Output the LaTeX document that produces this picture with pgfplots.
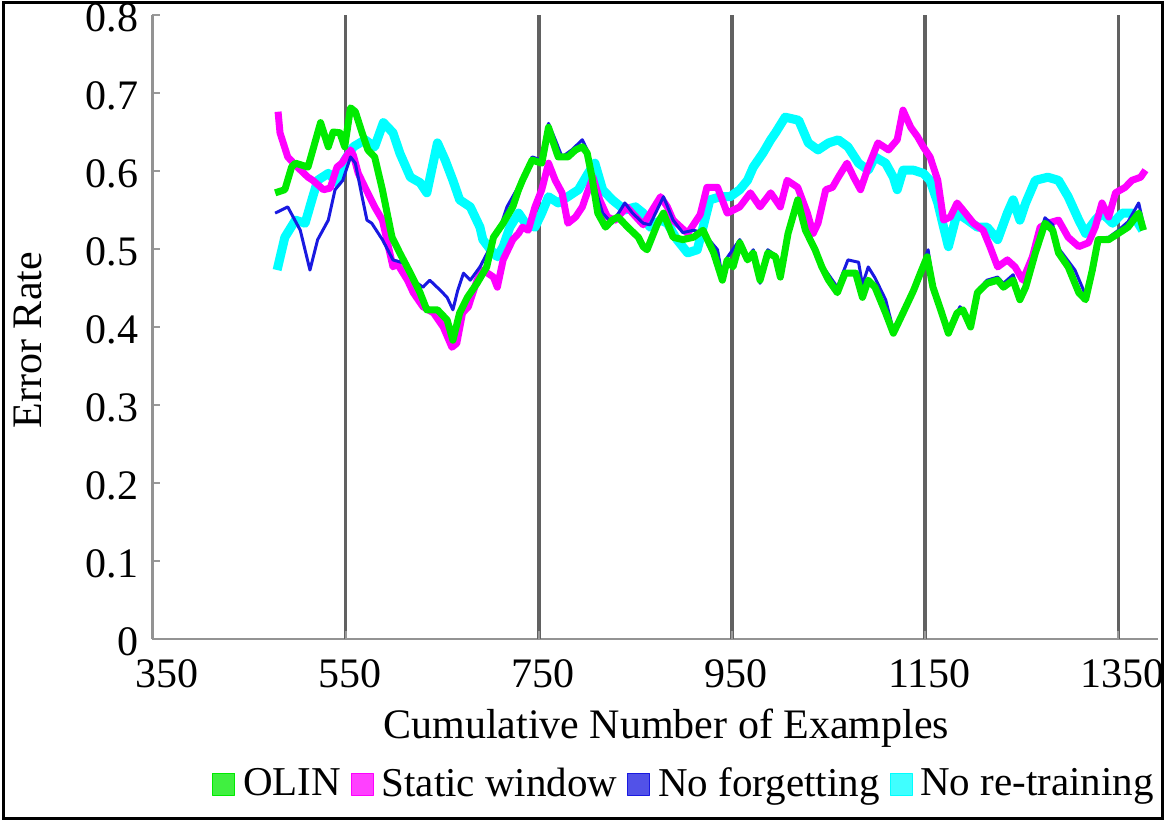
\documentclass[border=0pt]{standalone}
\usepackage{pgfplots}
\pgfplotsset{compat=1.18}
\usepackage{fontspec}
\setmainfont{Liberation Serif}
\definecolor{olin}{RGB}{0,235,0}
\definecolor{static}{RGB}{255,0,255}
\definecolor{nof}{RGB}{25,25,225}
\definecolor{noret}{RGB}{0,255,255}
\newcommand{\bigfont}{\fontsize{21}{25}\selectfont}
\newcommand{\legfont}{\fontsize{20.5}{24}\selectfont}
\begin{document}
\bigfont
\begin{tikzpicture}
\useasboundingbox (0,0) rectangle (583.5pt,411pt);
\fill[white] (0,0) rectangle (583.5pt,411pt);
\draw[line width=1.5pt] (1.5pt,1.5pt) rectangle (581pt,409.5pt);
\begin{axis}[
  at={(76.25pt,91.5pt)}, anchor=south west,
  scale only axis, width=502.75pt, height=312pt,
  xmin=350, xmax=1391, ymin=0, ymax=0.8,
  axis lines*=left,
  axis line style={draw=gray!85, line width=1.3pt, -},
  xtick={350,550,750,950,1150,1350},
  xticklabels={\hspace*{10pt}350,550,750,950,1150,1350},
  ytick={0,0.1,0.2,0.3,0.4,0.5,0.6,0.7,0.8},
  extra x ticks={550,750,950,1150,1350},
  extra x tick labels={},
  extra x tick style={grid=major},
  major grid style={draw=black!62, line width=1.8pt},
  tick style={draw=gray!80, line width=1pt},
  major tick length=4pt,
  scaled ticks=false,
  /pgf/number format/assume math mode=true,
  /pgf/number format/1000 sep={},
  tick label style={font=\bigfont},
  xticklabel style={yshift=-3pt, xshift=2pt},
  yticklabel style={yshift=-1.5pt},
  label style={font=\bigfont},
  xlabel={Cumulative Number of Examples},
  ylabel={Error Rate},
  xlabel style={at={(axis description cs:0.511,-0.159)}, anchor=base},
  ylabel style={at={(axis description cs:-0.124,0.479)}, anchor=center},
  legend columns=4,
  legend style={at={(axis description cs:0.059,-0.234)}, anchor=west, draw=none, fill=none,
    inner sep=0pt, font=\legfont, nodes={inner xsep=4pt, inner ysep=2pt},
    /tikz/every even column/.append style={column sep=1pt}},
  legend image code/.code={\fill[#1,fill opacity=0.75] (0pt,-5pt) rectangle (11pt,6pt);},
  line join=round,
]
\addlegendimage{olin}
\addlegendentry{OLIN}
\addlegendimage{static}
\addlegendentry{Static window}
\addlegendimage{nof}
\addlegendentry{No forgetting}
\addlegendimage{noret}
\addlegendentry{No re-training}

% No re-training
\addplot[noret, line width=4.5pt, forget plot] coordinates {
(479,0.473)(487,0.515)(498,0.537)(508,0.533)(515,0.563)(521,0.588)(532,0.597)(541,0.585)
(549,0.614)(558,0.631)(570,0.640)(580,0.631)(589,0.662)(599,0.649)(606,0.623)(617,0.592)
(627,0.585)(634,0.572)(645,0.636)(653,0.614)(661,0.588)(668,0.563)(679,0.554)(689,0.528)
(692,0.512)(700,0.499)(707,0.490)(713,0.503)(720,0.528)(729,0.546)(736,0.533)(746,0.528)
(753,0.546)(760,0.567)(770,0.559)(780,0.567)(791,0.576)(801,0.597)(808,0.610)(816,0.576)
(826,0.563)(839,0.550)(850,0.554)(858,0.546)(865,0.528)(876,0.537)(883,0.533)(893,0.512)
(904,0.495)(914,0.499)(920,0.528)(927,0.563)(938,0.567)(948,0.567)(958,0.576)(966,0.588)
(972,0.605)(982,0.623)(990,0.640)(995,0.649)(1005,0.669)(1019,0.665)(1029,0.636)(1039,0.627)
(1050,0.636)(1060,0.640)(1070,0.631)(1081,0.610)(1091,0.601)(1098,0.618)(1109,0.610)(1117,0.592)
(1121,0.576)(1127,0.601)(1138,0.601)(1148,0.597)(1155,0.588)(1163,0.559)(1169,0.528)(1174,0.503)
(1183,0.546)(1194,0.537)(1204,0.528)(1214,0.528)(1225,0.512)(1235,0.546)(1241,0.563)(1248,0.537)
(1254,0.559)(1264,0.588)(1277,0.592)(1288,0.588)(1298,0.567)(1309,0.537)(1316,0.520)(1326,0.537)
(1333,0.546)(1344,0.533)(1354,0.546)(1364,0.546)(1375,0.524)
};
% Static window
\addplot[static, line width=3.5pt, forget plot] coordinates {
(480,0.676)(482,0.649)(490,0.618)(500,0.605)(511,0.592)(516,0.588)(527,0.576)(534,0.578)
(541,0.605)(546,0.610)(555,0.627)(558,0.620)(563,0.597)(570,0.579)(580,0.554)(588,0.537)
(599,0.477)(603,0.482)(614,0.460)(620,0.444)(630,0.426)(641,0.418)(651,0.400)(660,0.374)
(665,0.379)(671,0.418)(677,0.426)(686,0.460)(692,0.473)(703,0.464)(707,0.451)(713,0.486)
(723,0.512)(729,0.520)(733,0.528)(739,0.524)(746,0.554)(753,0.576)(760,0.610)(767,0.588)
(774,0.572)(780,0.533)(788,0.541)(795,0.554)(800,0.572)(806,0.592)(813,0.563)(821,0.541)
(829,0.537)(841,0.554)(858,0.531)(876,0.567)(883,0.554)(889,0.537)(904,0.520)(917,0.544)
(924,0.579)(935,0.579)(945,0.546)(958,0.554)(969,0.572)(979,0.554)(990,0.572)(1000,0.554)
(1007,0.588)(1018,0.579)(1028,0.546)(1034,0.520)(1039,0.533)(1047,0.576)(1054,0.579)(1060,0.592)
(1069,0.610)(1076,0.592)(1083,0.576)(1091,0.605)(1101,0.636)(1112,0.627)(1121,0.640)(1127,0.678)
(1135,0.656)(1142,0.644)(1148,0.631)(1155,0.618)(1163,0.588)(1169,0.537)(1176,0.541)(1183,0.559)
(1189,0.550)(1200,0.533)(1210,0.524)(1217,0.503)(1225,0.477)(1235,0.486)(1243,0.477)(1251,0.460)
(1261,0.490)(1269,0.528)(1277,0.533)(1288,0.537)(1298,0.515)(1309,0.503)(1319,0.508)(1326,0.528)
(1333,0.559)(1340,0.541)(1347,0.572)(1357,0.579)(1364,0.588)(1373,0.592)(1378,0.601)
};
% No forgetting
\addplot[nof, line width=1.5pt, forget plot] coordinates {
(477,0.546)(490,0.554)(503,0.524)(513,0.473)(521,0.512)(532,0.537)(539,0.576)(547,0.588)
(555,0.618)(560,0.610)(567,0.567)(572,0.537)(577,0.533)(588,0.512)(599,0.486)(610,0.482)
(620,0.460)(630,0.451)(637,0.460)(648,0.447)(655,0.438)(661,0.422)(666,0.447)(672,0.469)
(679,0.460)(689,0.477)(700,0.503)(710,0.528)(717,0.554)(727,0.576)(743,0.618)(753,0.614)
(760,0.661)(767,0.640)(774,0.618)(784,0.627)(795,0.640)(800,0.627)(805,0.592)(816,0.546)
(826,0.533)(839,0.559)(847,0.546)(858,0.533)(865,0.531)(879,0.567)(889,0.537)(899,0.521)
(910,0.524)(920,0.521)(935,0.499)(940,0.463)(945,0.489)(958,0.512)(966,0.489)(972,0.499)
(979,0.456)(987,0.499)(995,0.492)(1000,0.467)(1008,0.523)(1018,0.565)(1026,0.527)(1036,0.501)
(1043,0.479)(1050,0.467)(1059,0.451)(1070,0.486)(1081,0.483)(1085,0.454)(1091,0.477)(1098,0.463)
(1109,0.435)(1117,0.396)(1127,0.422)(1138,0.451)(1153,0.499)(1158,0.456)(1166,0.428)(1174,0.396)
(1186,0.426)(1197,0.409)(1204,0.447)(1214,0.460)(1225,0.464)(1231,0.456)(1241,0.467)(1248,0.441)
(1254,0.456)(1264,0.499)(1274,0.540)(1282,0.531)(1288,0.501)(1305,0.473)(1316,0.441)(1323,0.477)
(1329,0.514)(1340,0.515)(1350,0.524)(1360,0.535)(1371,0.559)(1376,0.531)
};
% OLIN
\addplot[olin, line width=3.5pt, forget plot] coordinates {
(477,0.572)(487,0.576)(494,0.605)(498,0.610)(511,0.605)(524,0.662)(532,0.631)(537,0.650)
(544,0.649)(549,0.631)(555,0.681)(560,0.676)(567,0.649)(573,0.627)(580,0.618)(588,0.576)
(598,0.515)(606,0.495)(617,0.469)(627,0.444)(634,0.422)(645,0.422)(655,0.409)(661,0.383)
(668,0.418)(676,0.438)(686,0.456)(696,0.477)(703,0.515)(713,0.533)(723,0.554)(729,0.576)
(733,0.588)(743,0.614)(753,0.610)(760,0.656)(764,0.640)(770,0.618)(780,0.618)(788,0.627)
(795,0.631)(800,0.623)(805,0.592)(811,0.546)(819,0.528)(826,0.537)(832,0.541)(842,0.528)
(853,0.515)(858,0.503)(862,0.499)(873,0.533)(879,0.546)(889,0.515)(899,0.512)(910,0.515)
(920,0.524)(931,0.495)(940,0.460)(945,0.486)(951,0.477)(958,0.508)(966,0.486)(972,0.495)
(979,0.460)(987,0.495)(995,0.490)(1000,0.464)(1008,0.520)(1018,0.563)(1026,0.524)(1036,0.499)
(1043,0.477)(1050,0.460)(1059,0.444)(1067,0.469)(1078,0.469)(1085,0.438)(1091,0.460)(1098,0.451)
(1109,0.418)(1117,0.392)(1127,0.418)(1138,0.447)(1145,0.469)(1152,0.490)(1158,0.451)(1166,0.422)
(1174,0.392)(1183,0.418)(1189,0.422)(1197,0.400)(1204,0.444)(1214,0.456)(1225,0.460)(1231,0.451)
(1241,0.460)(1248,0.435)(1254,0.451)(1264,0.495)(1274,0.533)(1282,0.524)(1288,0.495)(1298,0.477)
(1309,0.444)(1316,0.435)(1323,0.473)(1329,0.512)(1340,0.512)(1350,0.520)(1360,0.528)(1371,0.546)
(1376,0.524)
};
\end{axis}
\end{tikzpicture}
\end{document}
